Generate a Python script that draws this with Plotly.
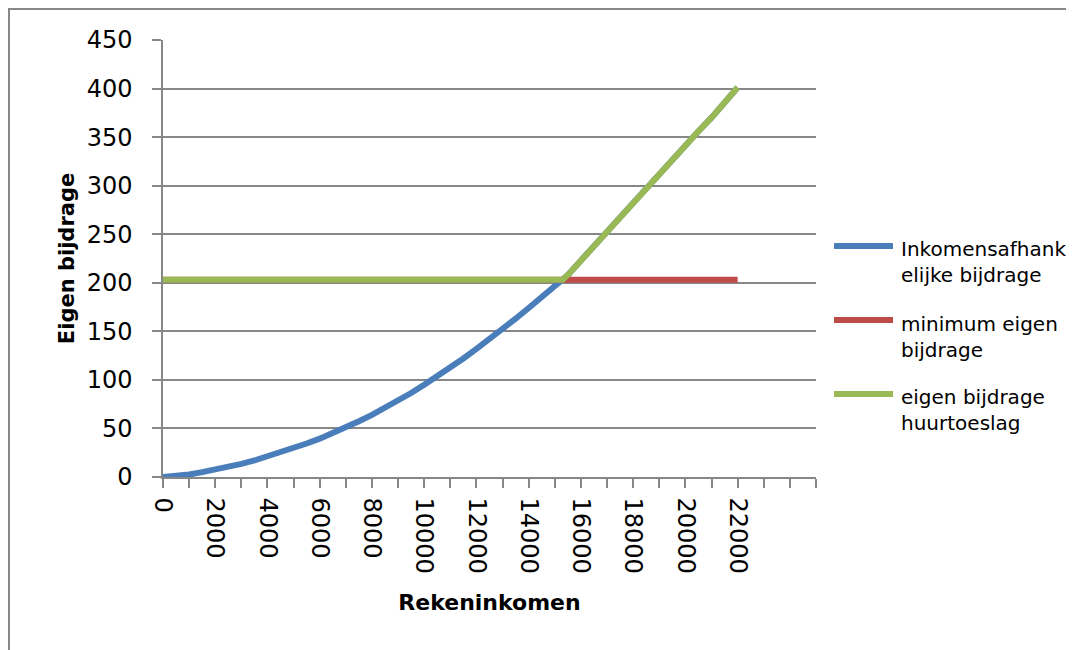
import plotly.graph_objects as go

# ---- data ----
income = [0, 500, 1000, 1500, 2000, 2500, 3000, 3500, 4000, 4500, 5000, 5500,
          6000, 6500, 7000, 7500, 8000, 8500, 9000, 9500, 10000, 10500, 11000,
          11500, 12000, 12500, 13000, 13500, 14000, 14500, 15000, 15300, 15500,
          16000, 16500, 17000, 17500, 18000, 18500, 19000, 19500, 20000, 20500,
          21000, 21500, 22000]

inkomensafhankelijk = [0, 0.5, 2.5, 5, 7.5, 10.5, 13.5, 17, 21, 25, 29.5, 34.5,
                       39.5, 45, 51, 57.5, 64, 71, 78.5, 86.5, 95, 103.5, 112.5,
                       122, 132, 142, 152.5, 163, 174, 185, 196.5, 203, 208,
                       223, 238, 253, 268, 283, 297, 312, 327, 342, 356,
                       370, 386, 401]

minimum_eigen = [203, 203, 203, 203, 203, 203, 203, 203, 203, 203, 203, 203,
                 203, 203, 203, 203, 203, 203, 203, 203, 203, 203, 203,
                 203, 203, 203, 203, 203, 203, 203, 203, 203, 203,
                 203, 203, 203, 203, 203, 203, 203, 203, 203, 203,
                 203, 203, 203]

eigen_huurtoeslag = [203, 203, 203, 203, 203, 203, 203, 203, 203, 203, 203, 203,
                     203, 203, 203, 203, 203, 203, 203, 203, 203, 203, 203,
                     203, 203, 203, 203, 203, 203, 203, 203, 203, 208,
                     223, 238, 253, 268, 283, 297, 312, 327, 342, 356,
                     370, 386, 401]

series_names = ["Inkomensafhank<br>elijke bijdrage",
                "minimum eigen<br>bijdrage",
                "eigen bijdrage<br>huurtoeslag"]
series_colors = ["#4A7EBB", "#BE4B48", "#98B954"]
series_values = [inkomensafhankelijk, minimum_eigen, eigen_huurtoeslag]

x_tick_values = list(range(0, 25001, 1000))
x_tick_labels = [str(v) if (v % 2000 == 0 and v <= 22000) else "" for v in x_tick_values]
y_tick_values = [0, 50, 100, 150, 200, 250, 300, 350, 400, 450]

FONT = "DejaVu Sans"
GRAY = "#878787"

# ---- layout geometry ----
# the page body adds an 8px offset, so figure coords = window coords - 8
OFF = 8
W, H = 1074, 650
PL, PR, PT, PB = 163 - OFF, 816 - OFF, 40 - OFF, 477 - OFF
pw, ph = PR - PL, PB - PT


def px_x(p):  # window x -> paper
    return (p - OFF - PL) / pw


def px_y(p):  # window y -> paper
    return (PB - (p - OFF)) / ph


fig = go.Figure()
for name, vals, color in zip(series_names, series_values, series_colors):
    fig.add_trace(go.Scatter(
        x=income, y=vals, mode="lines", name=name.replace("<br>", " "),
        line=dict(color=color, width=6), showlegend=False,
    ))

shapes = []
annotations = []
# chart-area border (only left and top are inside the picture)
shapes.append(dict(type="rect", xref="paper", yref="paper",
                   x0=px_x(9), x1=px_x(1200), y0=px_y(800), y1=px_y(9),
                   line=dict(color=GRAY, width=2), fillcolor="rgba(0,0,0,0)",
                   layer="below"))

# custom legend
legend_line_y = [246, 320, 394]
legend_text_y = [261.5, 336.5, 410]
for name, color, ly, ty in zip(series_names, series_colors, legend_line_y, legend_text_y):
    shapes.append(dict(type="line", xref="paper", yref="paper",
                       x0=px_x(834), x1=px_x(893), y0=px_y(ly), y1=px_y(ly),
                       line=dict(color=color, width=6)))
    annotations.append(dict(xref="paper", yref="paper", x=px_x(899), y=px_y(ty),
                            xanchor="left", yanchor="middle", align="left",
                            showarrow=False, text=name,
                            font=dict(family=FONT, size=20, color="black")))

fig.update_layout(
    width=W, height=H,
    margin=dict(l=PL, r=W - PR, t=PT, b=H - PB, autoexpand=False),
    paper_bgcolor="white", plot_bgcolor="white",
    font=dict(family=FONT, color="black"),
    shapes=shapes, annotations=annotations,
    showlegend=False,
)

fig.update_xaxes(
    range=[0, 25000], tickmode="array", tickvals=x_tick_values, ticktext=x_tick_labels,
    tickangle=90, ticks="outside", ticklen=9, tickwidth=1.5, tickcolor=GRAY,
    ticklabelstandoff=5,
    showline=True, linecolor=GRAY, linewidth=1.5, showgrid=False, zeroline=False,
    tickfont=dict(family=FONT, size=24, color="black"),
    title=dict(text="Rekeninkomen", standoff=22,
               font=dict(family=FONT, size=22, color="black", weight="bold")),
    automargin=False,
)
fig.update_yaxes(
    range=[0, 450], tickmode="array", tickvals=y_tick_values,
    ticks="outside", ticklen=9, tickwidth=1.5, tickcolor=GRAY,
    ticklabelstandoff=15,
    showline=True, linecolor=GRAY, linewidth=1.5,
    showgrid=True, gridcolor=GRAY, gridwidth=1.5, zeroline=False,
    tickfont=dict(family=FONT, size=24, color="black"),
    title=dict(text="Eigen bijdrage", standoff=6,
               font=dict(family=FONT, size=21, color="black", weight="bold")),
    automargin=False,
)

fig.write_html("out.html")
